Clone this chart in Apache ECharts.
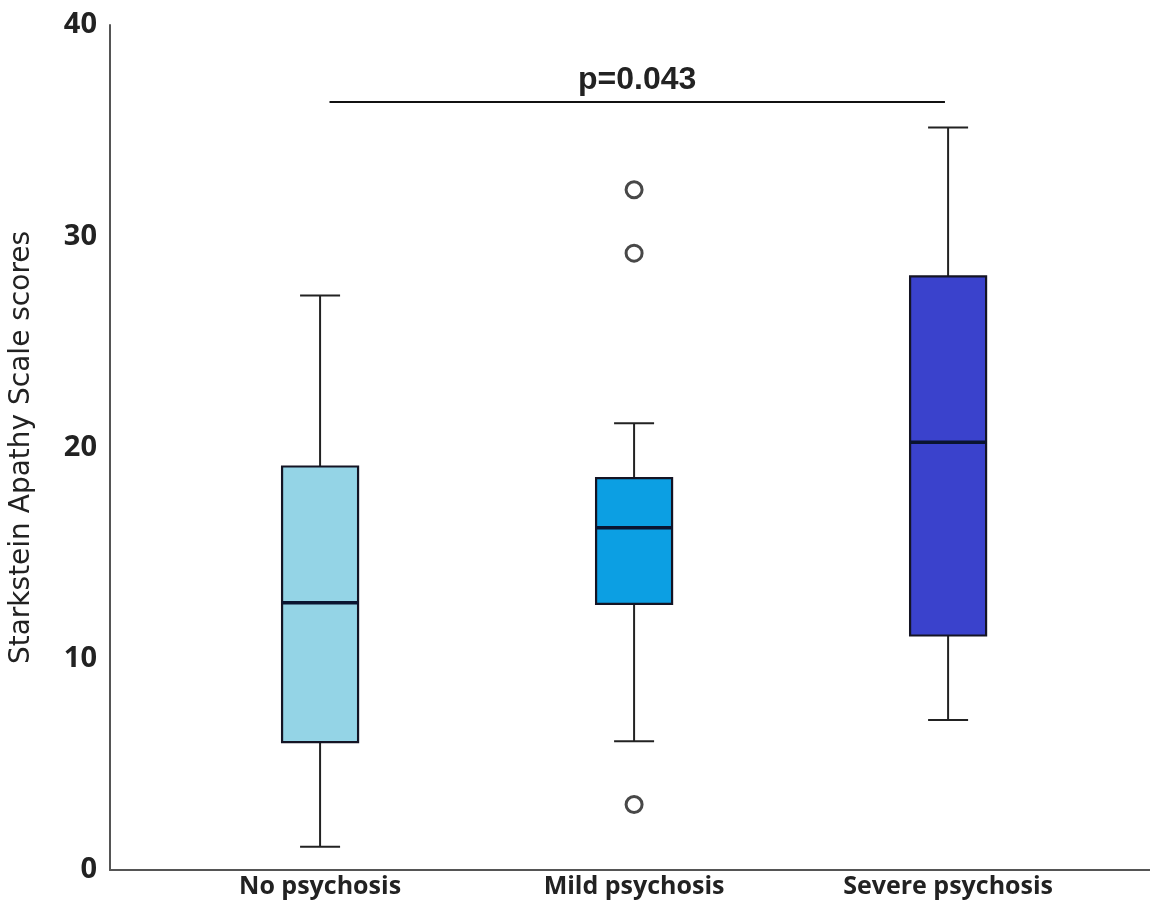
<!DOCTYPE html>
<html>
<head>
<meta charset="utf-8">
<script src="https://cdn.jsdelivr.net/npm/echarts@6/dist/echarts.min.js"></script>
<style>
  html, body { margin: 0; padding: 0; background: #fff; }
  #chart { width: 1150px; height: 913px; }
</style>
</head>
<body>
<div id="chart"></div>
<script>
// groups and their box statistics: [min, Q1, median, Q3, max]
const categories = ['No psychosis', 'Mild psychosis', 'Severe psychosis'];
const boxStats = [
  [1.1, 6.05, 12.65, 19.1, 27.2],
  [6.1, 12.6, 16.2, 18.55, 21.15],
  [7.1, 11.1, 20.25, 28.1, 35.15]
];
const boxColors = ['#94d4e6', '#0c9fe3', '#3a42cc'];
// outliers: [group index, value]
const outliers = [
  [1, 32.2],
  [1, 29.2],
  [1, 3.1]
];
const yTicks = [0, 10, 20, 30, 40];
// significance bracket between first and last group
const sigLabel = 'p=0.043';
const sigFrom = 0.03;
const sigTo = 1.99;
const sigY = 36.35;

const chart = echarts.init(document.getElementById('chart'));

const boxData = boxStats.map(function (s, i) { return [i].concat(s); });

function renderBox(params, api) {
  const i = api.value(0);
  const lo = api.coord([i, api.value(1)]);
  const q1 = api.coord([i, api.value(2)]);
  const md = api.coord([i, api.value(3)]);
  const q3 = api.coord([i, api.value(4)]);
  const hi = api.coord([i, api.value(5)]);
  const bw = 76, cw = 40;
  const cx = lo[0];
  const line = { stroke: '#222', lineWidth: 2 };
  return {
    type: 'group',
    children: [
      { type: 'line', shape: { x1: cx, y1: hi[1], x2: cx, y2: q3[1] }, style: line },
      { type: 'line', shape: { x1: cx - cw / 2, y1: hi[1], x2: cx + cw / 2, y2: hi[1] }, style: line },
      { type: 'line', shape: { x1: cx, y1: q1[1], x2: cx, y2: lo[1] }, style: line },
      { type: 'line', shape: { x1: cx - cw / 2, y1: lo[1], x2: cx + cw / 2, y2: lo[1] }, style: line },
      { type: 'rect', shape: { x: cx - bw / 2, y: q3[1], width: bw, height: q1[1] - q3[1] },
        style: { fill: boxColors[params.dataIndex], stroke: '#141424', lineWidth: 2.2 } },
      { type: 'line', shape: { x1: cx - bw / 2, y1: md[1], x2: cx + bw / 2, y2: md[1] },
        style: { stroke: '#0a1430', lineWidth: 3.5 } }
    ]
  };
}

chart.setOption({
  animation: false,
  grid: { left: 110, right: 0, top: 25, bottom: 43, containLabel: false, outerBoundsMode: 'none' },
  xAxis: {
    type: 'value',
    min: -0.669,
    max: 2.643,
    splitLine: { show: false },
    axisTick: { show: false },
    axisLine: { show: true, onZero: false, lineStyle: { color: '#555', width: 2 } },
    axisLabel: {
      customValues: [0, 1, 2],
      formatter: function (v) { return categories[Math.round(v)]; },
      margin: 4,
      fontFamily: 'Open Sans',
      fontWeight: 'bold',
      fontSize: 25,
      color: '#222'
    }
  },
  yAxis: {
    type: 'value',
    min: 0,
    max: 40,
    interval: 10,
    name: 'Starkstein Apathy Scale scores',
    nameLocation: 'middle',
    nameGap: 74,
    nameTextStyle: { fontFamily: 'DejaVu Sans', fontSize: 28, color: '#222' },
    splitLine: { show: false },
    axisTick: { show: false },
    axisLine: { show: true, onZero: false, lineStyle: { color: '#555', width: 2 } },
    axisLabel: {
      customValues: yTicks,
      margin: 13,
      fontFamily: 'Open Sans',
      fontWeight: 'bold',
      fontSize: 29,
      color: '#222'
    }
  },
  series: [
    {
      type: 'custom',
      renderItem: renderBox,
      data: boxData,
      encode: { x: 0, y: [1, 2, 3, 4, 5] }
    },
    {
      type: 'scatter',
      data: outliers,
      symbol: 'circle',
      symbolSize: 16,
      itemStyle: { color: '#fff', borderColor: '#1a1a1a', borderWidth: 3 },
      markLine: {
        symbol: 'none',
        silent: true,
        lineStyle: { color: '#111', width: 2, type: 'solid' },
        label: {
          show: true,
          position: 'insideMiddleTop',
          distance: 6,
          formatter: sigLabel,
          fontFamily: 'Liberation Sans',
          fontWeight: 'bold',
          fontSize: 32,
          color: '#222'
        },
        data: [[{ coord: [sigFrom, sigY] }, { coord: [sigTo, sigY] }]]
      }
    }
  ]
});
</script>
</body>
</html>
